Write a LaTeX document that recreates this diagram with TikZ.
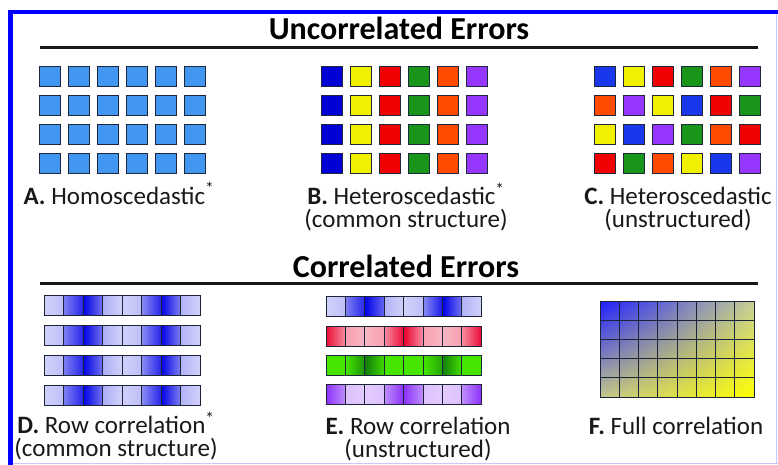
\documentclass[tikz,border=0pt]{standalone}
\usepackage{fontspec}
\setmainfont{Carlito}
\usetikzlibrary{shadings}
\definecolor{frameblue}{RGB}{0,0,255}
\definecolor{framelight}{RGB}{200,200,255}
\definecolor{sqborder}{RGB}{30,40,60}
\definecolor{lightblue}{RGB}{66,150,240}
\definecolor{cb}{RGB}{0,0,215}
\definecolor{cbb}{RGB}{25,55,235}
\definecolor{cy}{RGB}{240,240,0}
\definecolor{cr}{RGB}{240,0,0}
\definecolor{cg}{RGB}{25,150,25}
\definecolor{co}{RGB}{255,75,0}
\definecolor{cp}{RGB}{150,55,255}
\definecolor{BB}{RGB}{0,0,230}
\definecolor{RR}{RGB}{235,0,45}
\definecolor{GB}{RGB}{70,230,0}
\definecolor{GD}{RGB}{10,110,10}
\definecolor{PP}{RGB}{140,50,250}
\definecolor{fTL}{RGB}{30,30,255}
\definecolor{fTR}{RGB}{200,208,150}
\definecolor{fBL}{RGB}{195,198,140}
\definecolor{fBR}{RGB}{255,255,0}
\definecolor{textcol}{RGB}{25,25,25}
\begin{document}
\begin{tikzpicture}[x=1pt,y=-1pt,
  sq/.style={draw=sqborder, line width=0.8pt},
  cellline/.style={draw=sqborder!90!black, line width=0.9pt},
  rule/.style={line width=3pt, black!90},
  titletext/.style={font=\fontsize{32}{36}\selectfont\bfseries, text=black, inner sep=0pt},
  lab/.style={font=\fontsize{25}{22.5}\selectfont, text=textcol, inner sep=0pt, anchor=base, align=center}]
\useasboundingbox (0,0) rectangle (778,465);
\fill[white] (0,0) rectangle (778,465);
% frame
\draw[line width=4pt, frameblue] (8,12) -- (778,12);
\draw[line width=5pt, frameblue] (10.5,10) -- (10.5,465);
\draw[line width=1pt, framelight] (13,463.5) -- (778,463.5);
\draw[line width=1pt, framelight] (776.5,14) -- (776.5,463.5);
% titles and rules
\node[titletext, anchor=base] (t1) at (399,40) {Uncorrelated Errors};
\draw[rule] (40,48) -- (758,48);
\node[titletext, anchor=base] (t2) at (406,277) {Correlated Errors};
\draw[rule] (40,283) -- (758,283);
% Grid A
\foreach \c in {0,...,5} \foreach \r in {0,...,3}
  \draw[sq, fill=lightblue] ({39.5+29*\c},{66+29*\r}) rectangle ++(21,20);
% Grid B
\foreach \c/\col in {0/cb,1/cy,2/cr,3/cg,4/co,5/cp} \foreach \r in {0,...,3}
  \draw[sq, fill=\col] ({321+29*\c},{66+29*\r}) rectangle ++(21,20);
% Grid C
\foreach \r/\lst in {0/{cbb,cy,cr,cg,co,cp},1/{co,cp,cy,cbb,cr,cg},2/{cy,cbb,cp,cg,co,cr},3/{cr,cg,co,cy,cbb,cp}}
  \foreach \col [count=\c from 0] in \lst
    \draw[sq, fill=\col] ({594+29*\c},{66+29*\r}) rectangle ++(21,20);
% labels top (anchor = baseline of last line)
\node[lab] (la) at (119,204) {\textbf{A.} Homoscedastic\textsuperscript{*}};
\node[lab] (lb) at (406,227) {\textbf{B.} Heteroscedastic\textsuperscript{*}\\(common structure)};
\node[lab] (lc) at (678,227) {\textbf{C.} Heteroscedastic\\(unstructured)};
% D rows (blue, common structure)
\foreach \y in {295,325,355,385} {
  \foreach \i/\a/\b in {0/18/25,1/50/85,2/100/55,3/32/18,4/18/25,5/45/85,6/100/50,7/30/18}
    \shade[left color=BB!\a, right color=BB!\b] ({44+19.5*\i},\y) rectangle ++(19.5,20);
  \foreach \i in {1,...,7} \draw[cellline] ({44+19.5*\i},\y) -- ++(0,20);
  \draw[cellline] (44,\y) rectangle ++(156,20);
}
% E rows
\def\ex{326}
\foreach \i/\a/\b in {0/18/25,1/50/85,2/100/60,3/30/18,4/18/25,5/45/90,6/100/55,7/30/18}
  \shade[left color=BB!\a, right color=BB!\b] ({\ex+19.4*\i},296) rectangle ++(19.4,20);
\foreach \i/\a/\b in {0/95/45,1/38/28,2/28/38,3/45/95,4/100/45,5/38/28,6/28/38,7/45/95}
  \shade[left color=RR!\a, right color=RR!\b] ({\ex+19.4*\i},326) rectangle ++(19.4,20);
\foreach \i/\a/\b in {0/0/0,1/0/70,2/90/10,3/0/0,4/0/0,5/0/55,6/85/5,7/0/0}
  \shade[left color=GD!\a!GB, right color=GD!\b!GB] ({\ex+19.4*\i},355) rectangle ++(19.4,20);
\foreach \i/\a/\b in {0/100/55,1/30/25,2/25/30,3/55/100,4/100/55,5/30/25,6/25/30,7/55/100}
  \shade[left color=PP!\a, right color=PP!\b] ({\ex+19.4*\i},384) rectangle ++(19.4,20);
\foreach \y in {296,326,355,384} {
  \foreach \i in {1,...,7} \draw[cellline] ({\ex+19.4*\i},\y) -- ++(0,20);
  \draw[cellline] (\ex,\y) rectangle ++(155.2,20);
}
% F full correlation
\shade[upper left=fTL, upper right=fTR, lower left=fBL, lower right=fBR] (600,301) rectangle (754,397);
\foreach \i in {1,...,7} \draw[cellline] ({600+19.25*\i},301) -- ++(0,96);
\foreach \j in {1,...,4} \draw[cellline] (600,{301+19.2*\j}) -- ++(154,0);
\draw[cellline] (600,301) rectangle (754,397);
% labels bottom
\node[lab] (ld) at (116,456) {\textbf{D.} Row correlation\textsuperscript{*}\\(common structure)};
\node[lab] (le) at (418,457) {\textbf{E.} Row correlation\\(unstructured)};
\node[lab] (lf) at (676,434) {\textbf{F.} Full correlation};
\end{tikzpicture}
\end{document}
